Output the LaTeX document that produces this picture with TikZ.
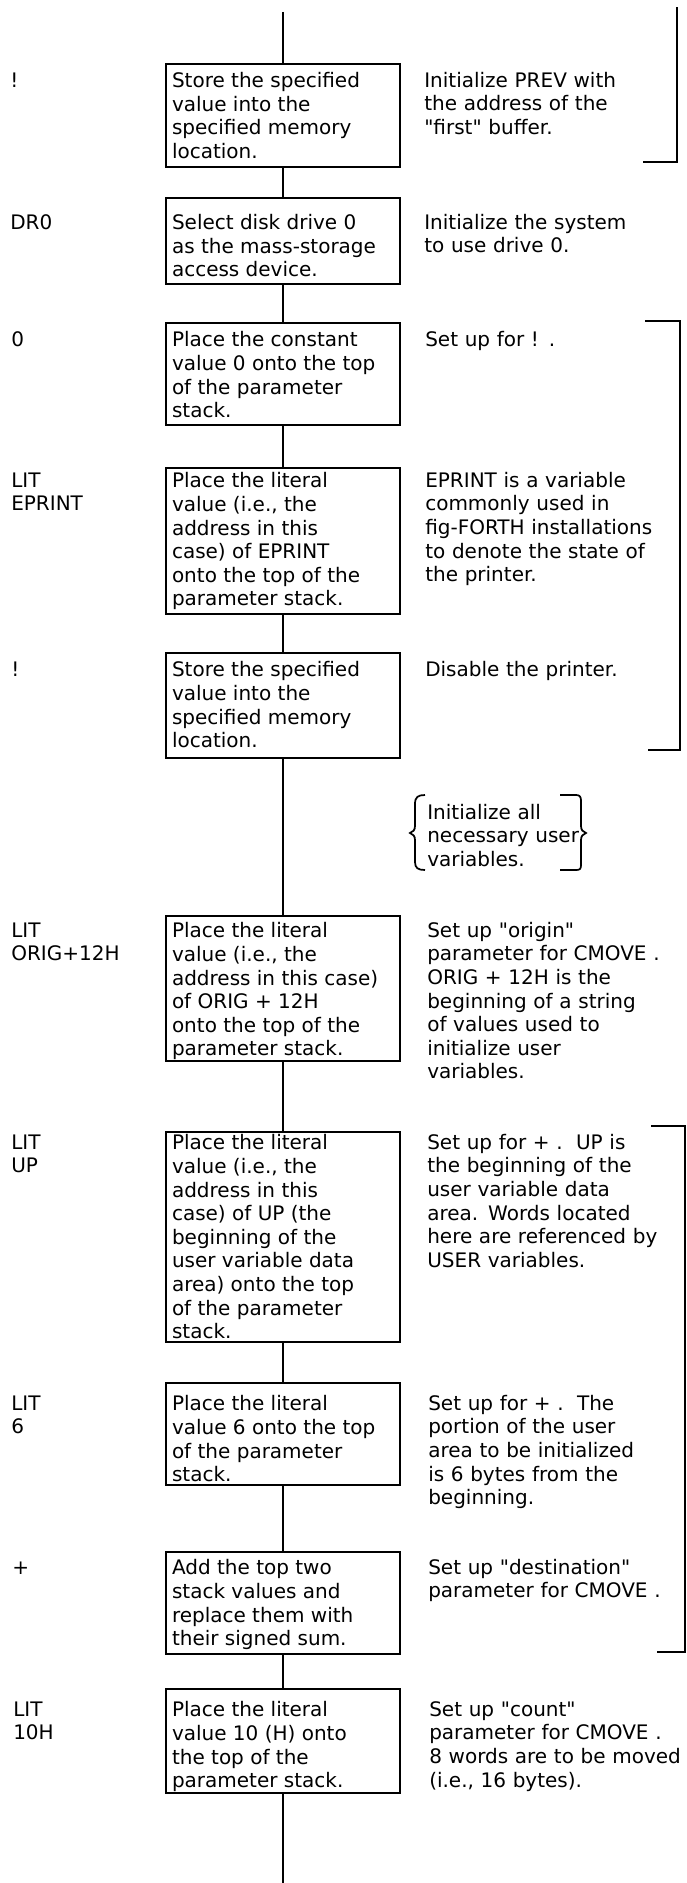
\documentclass[tikz,border=0pt]{standalone}
\usepackage{fontspec}
\newfontfamily\dvs{DejaVu Sans}
\newcommand{\firstln}{\rule{0pt}{17.25pt}}
\newcommand{\bx}[3]{\parbox[t][#1][t]{166.5pt}{\raggedright\rule{0pt}{#2}#3}}
\begin{document}
\begin{tikzpicture}[x=0.75pt,y=-0.75pt,
  every node/.style={font=\dvs\fontsize{15}{17.7}\selectfont},
  stepbox/.style={draw,line width=1.2pt,anchor=north,inner xsep=4.5pt,inner ysep=0pt},
  lbl/.style={anchor=north west,inner sep=0pt,align=left,text width=90pt},
  note/.style={anchor=north west,inner sep=0pt,align=left,text width=200pt},
  flow/.style={line width=1.2pt},
  brk/.style={line width=1.5pt}]
\useasboundingbox (0,0) rectangle (686,1883);

% step boxes
\node[stepbox] (b1) at (283,63) {\bx{77.25pt}{18pt}{Store the specified\\value into the\\specified memory\\location.}};
\node[stepbox] (b2) at (283,197) {\bx{64.5pt}{24pt}{Select disk drive 0\\as the mass-storage\\access device.}};
\node[stepbox] (b3) at (283,322) {\bx{76.5pt}{18pt}{Place the constant\\value 0 onto the top\\of the parameter\\stack.}};
\node[stepbox] (b4) at (283,467) {\bx{109.5pt}{15pt}{Place the literal\\value (i.e., the\\address in this\\case) of EPRINT\\onto the top of the\\parameter stack.}};
\node[stepbox] (b5) at (283,652) {\bx{78.75pt}{18pt}{Store the specified\\value into the\\specified memory\\location.}};
\node[stepbox] (b6) at (283,915) {\bx{108.75pt}{16.5pt}{Place the literal\\value (i.e., the\\address in this case)\\of ORIG + 12H\\onto the top of the\\parameter stack.}};
\node[stepbox] (b7) at (283,1131) {\bx{157.5pt}{13.5pt}{Place the literal\\value (i.e., the\\address in this\\case) of UP (the\\beginning of the\\user variable data\\area) onto the top\\of the parameter\\stack.}};
\node[stepbox] (b8) at (283,1382) {\bx{76.5pt}{21pt}{Place the literal\\value 6 onto the top\\of the parameter\\stack.}};
\node[stepbox] (b9) at (283,1551) {\bx{76.5pt}{17.25pt}{Add the top two\\stack values and\\replace them with\\their signed sum.}};
\node[stepbox] (b10) at (283,1688) {\bx{78pt}{21pt}{Place the literal\\value 10 (H) onto\\the top of the\\parameter stack.}};

% connectors
\coordinate (top) at (283,12);
\coordinate (bot) at (283,1883);
\draw[flow] (top) -- (b1.north);
\draw[flow] (b1.south) -- (b2.north);
\draw[flow] (b2.south) -- (b3.north);
\draw[flow] (b3.south) -- (b4.north);
\draw[flow] (b4.south) -- (b5.north);
\draw[flow] (b5.south) -- (b6.north);
\draw[flow] (b6.south) -- (b7.north);
\draw[flow] (b7.south) -- (b8.north);
\draw[flow] (b8.south) -- (b9.north);
\draw[flow] (b9.south) -- (b10.north);
\draw[flow] (b10.south) -- (bot);

% left labels
\node[lbl] (l1) at (10,64) {\firstln !};
\node[lbl] (l2) at (10,206) {\firstln DR0};
\node[lbl] (l3) at (11,323) {\firstln 0};
\node[lbl] (l4) at (11,464) {\firstln LIT\\EPRINT};
\node[lbl] (l5) at (11,653) {\firstln !};
\node[lbl] (l6) at (11,914) {\firstln LIT\\ORIG+12H};
\node[lbl] (l7) at (11,1126) {\firstln LIT\\UP};
\node[lbl] (l8) at (11,1387) {\firstln LIT\\6};
\node[lbl] (l9) at (12,1551) {\firstln +};
\node[lbl] (l10) at (13,1693) {\firstln LIT\\10H};

% right notes
\node[note] (r1) at (424,64) {\firstln Initialize PREV with\\the address of the\\"first" buffer.};
\node[note] (r2) at (424,206) {\firstln Initialize the system\\to use drive 0.};
\node[note] (r3) at (425,323) {\firstln Set up for ! .};
\node[note] (r4) at (425,464) {\firstln EPRINT is a variable\\commonly used in\\fig-FORTH installations\\to denote the state of\\the printer.};
\node[note] (r5) at (425,653) {\firstln Disable the printer.};
\node[note] (r6) at (427,914) {\firstln Set up "origin"\\parameter for CMOVE .\\ORIG + 12H is the\\beginning of a string\\of values used to\\initialize user\\variables.};
\node[note] (r7) at (427,1126) {\firstln Set up for + .~~UP is\\the beginning of the\\user variable data\\area. Words located\\here are referenced by\\USER variables.};
\node[note] (r8) at (428,1387) {\firstln Set up for + .~~The\\portion of the user\\area to be initialized\\is 6 bytes from the\\beginning.};
\node[note] (r9) at (428,1551) {\firstln Set up "destination"\\parameter for CMOVE .};
\node[note] (r10) at (429,1693) {\firstln Set up "count"\\parameter for CMOVE .\\8 words are to be moved\\(i.e., 16 bytes).};

% braced note
\node[note] (bn) at (427,796) {\firstln Initialize all\\necessary user\\variables.};
\draw[line width=1.3pt] (425,795) .. controls (418,795) and (415,797) .. (415,804) -- (415,826)
  .. controls (415,830) and (413,832) .. (410,833) .. controls (413,834) and (415,836) .. (415,840)
  -- (415,862) .. controls (415,868) and (418,870) .. (425,870);
\draw[line width=1.3pt] (560,795) -- (576,795) .. controls (580,795) and (581,797) .. (581,801) -- (581,826)
  .. controls (581,830) and (583,832) .. (586,833) .. controls (583,834) and (581,836) .. (581,840)
  -- (581,865) .. controls (581,869) and (580,870) .. (576,870) -- (560,870);

% right brackets
\draw[brk] (643,162) -- (677,162) -- (677,7);
\draw[brk] (645,321) -- (680,321) -- (680,750) -- (648,750);
\draw[brk] (651,1126) -- (685,1126) -- (685,1652) -- (657,1652);
\end{tikzpicture}
\end{document}
